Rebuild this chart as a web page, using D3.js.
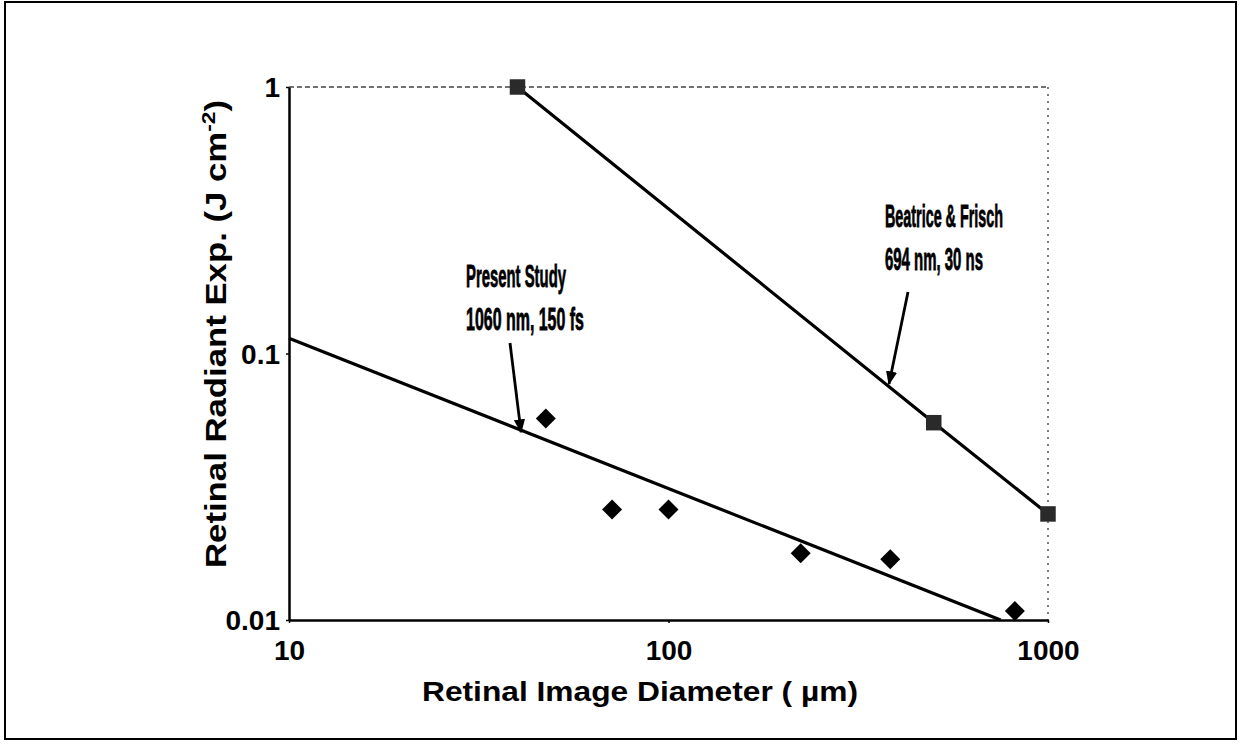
<!DOCTYPE html>
<html>
<head>
<meta charset="utf-8">
<script src="https://cdn.jsdelivr.net/npm/d3@7"></script>
<style>
  html, body { margin: 0; padding: 0; background: #fff; }
  svg { display: block; }
  .tick text { font-family: "Liberation Sans", Arial, sans-serif; font-weight: bold; fill: #000; }
</style>
</head>
<body>
<svg id="chart" width="1241" height="745"></svg>
<script>
// Threshold data: retinal radiant exposure vs. retinal image diameter
const presentDiam = [47.5, 71, 100, 223, 384, 818];
const presentExp  = [0.057, 0.026, 0.026, 0.0178, 0.0169, 0.0108];

const bfDiam = [40, 500, 1000];
const bfExp  = [1, 0.055, 0.025];

// Power-law fit through the present-study points
const presentFitDiam = [10, 750];
const presentFitExp  = [0.114, 0.01];

const xTickValues = [10, 100, 1000];
const yTickValues = [0.01, 0.1, 1];
const xTickLabels = ["10", "100", "1000"];
const yTickLabels = ["0.01", "0.1", "1"];

const svg = d3.select("#chart");
const W = 1241, H = 745;
const margin = { left: 289, right: W - 1048, top: 87, bottom: H - 620 };
const iw = W - margin.left - margin.right;
const ih = H - margin.top - margin.bottom;

// outer frame
svg.append("rect")
  .attr("x", 5).attr("y", 2).attr("width", 1231).attr("height", 737)
  .attr("fill", "none").attr("stroke", "#000").attr("stroke-width", 2);

const x = d3.scaleLog().domain([10, 1000]).range([0, iw]);
const y = d3.scaleLog().domain([0.01, 1]).range([ih, 0]);

const g = svg.append("g").attr("transform", `translate(${margin.left},${margin.top})`);

// dotted top and right borders of the plot area
g.append("line").attr("x1", 0).attr("x2", iw).attr("y1", 0).attr("y2", 0)
  .attr("stroke", "#444").attr("stroke-width", 1.4).attr("stroke-dasharray", "5,3");
g.append("line").attr("x1", iw).attr("x2", iw).attr("y1", 0).attr("y2", ih)
  .attr("stroke", "#444").attr("stroke-width", 1.4).attr("stroke-dasharray", "2,5");

// axes
const xAxis = d3.axisBottom(x).tickValues(xTickValues)
  .tickFormat((d, i) => xTickLabels[i]).tickSizeInner(3).tickSizeOuter(0).tickPadding(17);
const yAxis = d3.axisLeft(y).tickValues(yTickValues)
  .tickFormat((d, i) => yTickLabels[i]).tickSizeInner(3).tickSizeOuter(0).tickPadding(6);

const gx = g.append("g").attr("transform", `translate(0,${ih})`).call(xAxis);
const gy = g.append("g").call(yAxis);
[gx, gy].forEach(a => {
  a.select(".domain").attr("stroke", "#000").attr("stroke-width", 2.5);
  a.selectAll(".tick line").attr("stroke", "#000").attr("stroke-width", 1.5);
  a.selectAll(".tick text").attr("font-size", 28);
});
gy.selectAll(".tick text").attr("dy", "0.35em");

// fit lines
const line = d3.line().x(d => x(d[0])).y(d => y(d[1]));
g.append("path")
  .datum(presentFitDiam.map((d, i) => [d, presentFitExp[i]]))
  .attr("d", line).attr("fill", "none").attr("stroke", "#000").attr("stroke-width", 3.2);
g.append("path")
  .datum(bfDiam.map((d, i) => [d, bfExp[i]]))
  .attr("d", line).attr("fill", "none").attr("stroke", "#000").attr("stroke-width", 3.2);

// present-study diamonds
g.selectAll(".diamond").data(presentDiam).enter().append("path")
  .attr("class", "diamond")
  .attr("transform", (d, i) => `translate(${x(d)},${y(presentExp[i])}) rotate(45)`)
  .attr("d", d3.symbol().type(d3.symbolSquare).size(200))
  .attr("fill", "#000");

// Beatrice & Frisch squares
g.selectAll(".sq").data(bfDiam).enter().append("path")
  .attr("class", "sq")
  .attr("transform", (d, i) => `translate(${x(d)},${y(bfExp[i])})`)
  .attr("d", d3.symbol().type(d3.symbolSquare).size(240))
  .attr("fill", "#2a2a2a");

// axis titles
svg.append("text")
  .attr("x", 640).attr("y", 701).attr("text-anchor", "middle")
  .attr("font-family", "Liberation Sans, Arial, sans-serif").attr("font-weight", "bold")
  .attr("font-size", 28)
  .attr("textLength", 436).attr("lengthAdjust", "spacingAndGlyphs")
  .text("Retinal Image Diameter ( \u00b5m)");

const yt = svg.append("text")
  .attr("transform", "translate(226,334) rotate(-90)")
  .attr("text-anchor", "middle")
  .attr("font-family", "Liberation Sans, Arial, sans-serif").attr("font-weight", "bold")
  .attr("font-size", 29)
  .attr("textLength", 468).attr("lengthAdjust", "spacingAndGlyphs");
yt.append("tspan").text("Retinal Radiant Exp. (J cm");
yt.append("tspan").attr("dy", -11).attr("font-size", 19).text("-2");
yt.append("tspan").attr("dy", 11).text(")");

// annotations
const ann = [
  { lines: ["Present Study", "1060 nm, 150 fs"], x: 466, y: [287, 330], w: [100, 118],
    from: [510, 343], to: [521, 432] },
  { lines: ["Beatrice & Frisch", "694 nm, 30 ns"], x: 885, y: [227, 270], w: [118, 98],
    from: [908, 292], to: [889, 384] }
];
const defs = svg.append("defs");
defs.append("marker").attr("id", "ah").attr("viewBox", "0 0 10 10")
  .attr("refX", 9).attr("refY", 5).attr("markerWidth", 5).attr("markerHeight", 5)
  .attr("orient", "auto")
  .append("path").attr("d", "M0,1 L10,5 L0,9 Z").attr("fill", "#000");

ann.forEach(a => {
  a.lines.forEach((t, i) => {
    svg.append("text")
      .attr("x", a.x).attr("y", a.y[i])
      .attr("font-family", "Liberation Sans Narrow, Liberation Sans, Arial, sans-serif")
      .attr("font-weight", "bold").attr("font-size", 31)
      .attr("stroke", "#000").attr("stroke-width", 0.8)
      .attr("textLength", a.w[i]).attr("lengthAdjust", "spacingAndGlyphs")
      .text(t);
  });
  svg.append("line")
    .attr("x1", a.from[0]).attr("y1", a.from[1]).attr("x2", a.to[0]).attr("y2", a.to[1])
    .attr("stroke", "#000").attr("stroke-width", 2.8).attr("marker-end", "url(#ah)");
});
</script>
</body>
</html>
